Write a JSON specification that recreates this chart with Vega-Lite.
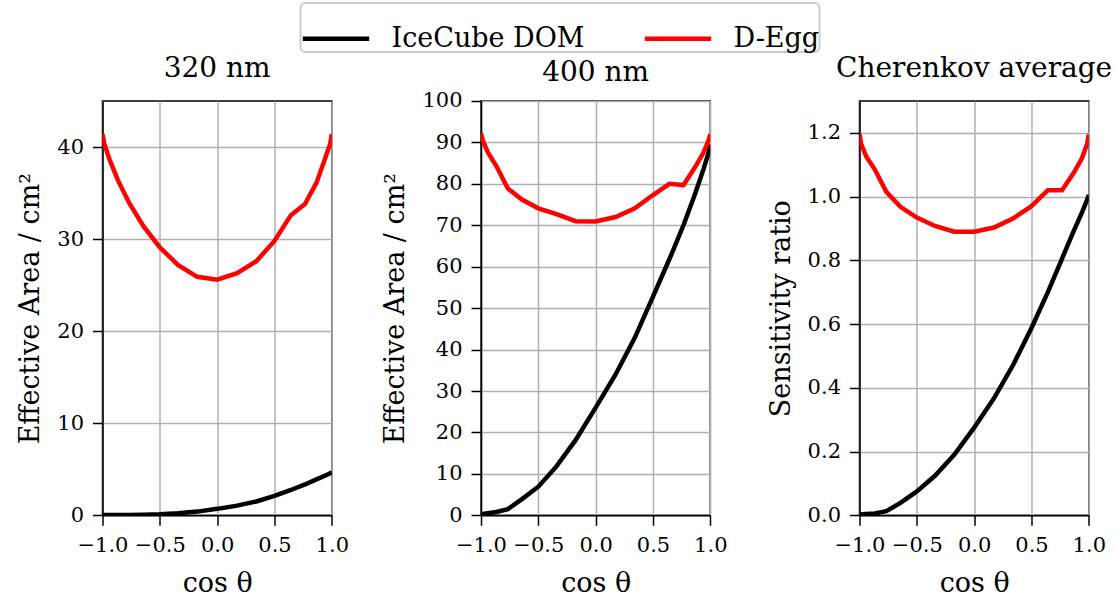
{
  "$schema": "https://vega.github.io/schema/vega-lite/v6.json",
  "background": "white",
  "padding": {"left": 15.5, "top": 2, "right": 5, "bottom": 5},
  "bounds": "flush",
  "spacing": 148.5,
  "datasets": {
    "d": [
      {"p": "a", "s": "IceCube DOM", "x": -1, "y": 0.02},
      {"p": "a", "s": "IceCube DOM", "x": -0.985, "y": 0.02},
      {"p": "a", "s": "IceCube DOM", "x": -0.94, "y": 0.02},
      {"p": "a", "s": "IceCube DOM", "x": -0.866, "y": 0.03},
      {"p": "a", "s": "IceCube DOM", "x": -0.766, "y": 0.04},
      {"p": "a", "s": "IceCube DOM", "x": -0.643, "y": 0.07},
      {"p": "a", "s": "IceCube DOM", "x": -0.5, "y": 0.12},
      {"p": "a", "s": "IceCube DOM", "x": -0.342, "y": 0.22},
      {"p": "a", "s": "IceCube DOM", "x": -0.174, "y": 0.4},
      {"p": "a", "s": "IceCube DOM", "x": 0, "y": 0.7},
      {"p": "a", "s": "IceCube DOM", "x": 0.174, "y": 1.05},
      {"p": "a", "s": "IceCube DOM", "x": 0.342, "y": 1.5},
      {"p": "a", "s": "IceCube DOM", "x": 0.5, "y": 2.1},
      {"p": "a", "s": "IceCube DOM", "x": 0.643, "y": 2.75},
      {"p": "a", "s": "IceCube DOM", "x": 0.766, "y": 3.35},
      {"p": "a", "s": "IceCube DOM", "x": 0.866, "y": 3.9},
      {"p": "a", "s": "IceCube DOM", "x": 0.94, "y": 4.3},
      {"p": "a", "s": "IceCube DOM", "x": 0.985, "y": 4.55},
      {"p": "a", "s": "IceCube DOM", "x": 1, "y": 4.7},
      {"p": "a", "s": "D-Egg", "x": -1, "y": 41.4},
      {"p": "a", "s": "D-Egg", "x": -0.985, "y": 40.4},
      {"p": "a", "s": "D-Egg", "x": -0.94, "y": 38.7},
      {"p": "a", "s": "D-Egg", "x": -0.866, "y": 36.4},
      {"p": "a", "s": "D-Egg", "x": -0.766, "y": 33.9},
      {"p": "a", "s": "D-Egg", "x": -0.643, "y": 31.4},
      {"p": "a", "s": "D-Egg", "x": -0.5, "y": 29.1},
      {"p": "a", "s": "D-Egg", "x": -0.342, "y": 27.2},
      {"p": "a", "s": "D-Egg", "x": -0.174, "y": 25.9},
      {"p": "a", "s": "D-Egg", "x": 0, "y": 25.6},
      {"p": "a", "s": "D-Egg", "x": 0.174, "y": 26.3},
      {"p": "a", "s": "D-Egg", "x": 0.342, "y": 27.6},
      {"p": "a", "s": "D-Egg", "x": 0.5, "y": 29.8},
      {"p": "a", "s": "D-Egg", "x": 0.643, "y": 32.6},
      {"p": "a", "s": "D-Egg", "x": 0.766, "y": 33.8},
      {"p": "a", "s": "D-Egg", "x": 0.866, "y": 36.1},
      {"p": "a", "s": "D-Egg", "x": 0.94, "y": 38.7},
      {"p": "a", "s": "D-Egg", "x": 0.985, "y": 40.3},
      {"p": "a", "s": "D-Egg", "x": 1, "y": 41.4},
      {"p": "b", "s": "IceCube DOM", "x": -1, "y": 0.3},
      {"p": "b", "s": "IceCube DOM", "x": -0.985, "y": 0.3},
      {"p": "b", "s": "IceCube DOM", "x": -0.94, "y": 0.5},
      {"p": "b", "s": "IceCube DOM", "x": -0.866, "y": 0.8},
      {"p": "b", "s": "IceCube DOM", "x": -0.766, "y": 1.5},
      {"p": "b", "s": "IceCube DOM", "x": -0.643, "y": 3.9},
      {"p": "b", "s": "IceCube DOM", "x": -0.5, "y": 6.9},
      {"p": "b", "s": "IceCube DOM", "x": -0.342, "y": 11.8},
      {"p": "b", "s": "IceCube DOM", "x": -0.174, "y": 18.2},
      {"p": "b", "s": "IceCube DOM", "x": 0, "y": 26.0},
      {"p": "b", "s": "IceCube DOM", "x": 0.174, "y": 34.0},
      {"p": "b", "s": "IceCube DOM", "x": 0.342, "y": 42.9},
      {"p": "b", "s": "IceCube DOM", "x": 0.5, "y": 52.8},
      {"p": "b", "s": "IceCube DOM", "x": 0.643, "y": 61.8},
      {"p": "b", "s": "IceCube DOM", "x": 0.766, "y": 70.0},
      {"p": "b", "s": "IceCube DOM", "x": 0.866, "y": 77.5},
      {"p": "b", "s": "IceCube DOM", "x": 0.94, "y": 83.5},
      {"p": "b", "s": "IceCube DOM", "x": 0.985, "y": 87.5},
      {"p": "b", "s": "IceCube DOM", "x": 1, "y": 89.5},
      {"p": "b", "s": "D-Egg", "x": -1, "y": 92.2},
      {"p": "b", "s": "D-Egg", "x": -0.985, "y": 90.5},
      {"p": "b", "s": "D-Egg", "x": -0.94, "y": 87.6},
      {"p": "b", "s": "D-Egg", "x": -0.866, "y": 84.3},
      {"p": "b", "s": "D-Egg", "x": -0.766, "y": 78.9},
      {"p": "b", "s": "D-Egg", "x": -0.643, "y": 76.2},
      {"p": "b", "s": "D-Egg", "x": -0.5, "y": 74.1},
      {"p": "b", "s": "D-Egg", "x": -0.342, "y": 72.7},
      {"p": "b", "s": "D-Egg", "x": -0.174, "y": 71.0},
      {"p": "b", "s": "D-Egg", "x": 0, "y": 70.9},
      {"p": "b", "s": "D-Egg", "x": 0.174, "y": 72.0},
      {"p": "b", "s": "D-Egg", "x": 0.342, "y": 74.1},
      {"p": "b", "s": "D-Egg", "x": 0.5, "y": 77.3},
      {"p": "b", "s": "D-Egg", "x": 0.643, "y": 80.0},
      {"p": "b", "s": "D-Egg", "x": 0.766, "y": 79.7},
      {"p": "b", "s": "D-Egg", "x": 0.866, "y": 84.0},
      {"p": "b", "s": "D-Egg", "x": 0.94, "y": 87.5},
      {"p": "b", "s": "D-Egg", "x": 0.985, "y": 90.5},
      {"p": "b", "s": "D-Egg", "x": 1, "y": 92.0},
      {"p": "c", "s": "IceCube DOM", "x": -1, "y": 0.003},
      {"p": "c", "s": "IceCube DOM", "x": -0.985, "y": 0.003},
      {"p": "c", "s": "IceCube DOM", "x": -0.94, "y": 0.004},
      {"p": "c", "s": "IceCube DOM", "x": -0.866, "y": 0.006},
      {"p": "c", "s": "IceCube DOM", "x": -0.766, "y": 0.013},
      {"p": "c", "s": "IceCube DOM", "x": -0.643, "y": 0.039},
      {"p": "c", "s": "IceCube DOM", "x": -0.5, "y": 0.075},
      {"p": "c", "s": "IceCube DOM", "x": -0.342, "y": 0.124},
      {"p": "c", "s": "IceCube DOM", "x": -0.174, "y": 0.19},
      {"p": "c", "s": "IceCube DOM", "x": 0, "y": 0.275},
      {"p": "c", "s": "IceCube DOM", "x": 0.174, "y": 0.368},
      {"p": "c", "s": "IceCube DOM", "x": 0.342, "y": 0.473},
      {"p": "c", "s": "IceCube DOM", "x": 0.5, "y": 0.588},
      {"p": "c", "s": "IceCube DOM", "x": 0.643, "y": 0.7},
      {"p": "c", "s": "IceCube DOM", "x": 0.766, "y": 0.805},
      {"p": "c", "s": "IceCube DOM", "x": 0.866, "y": 0.89},
      {"p": "c", "s": "IceCube DOM", "x": 0.94, "y": 0.95},
      {"p": "c", "s": "IceCube DOM", "x": 0.985, "y": 0.99},
      {"p": "c", "s": "IceCube DOM", "x": 1, "y": 1.005},
      {"p": "c", "s": "D-Egg", "x": -1, "y": 1.195},
      {"p": "c", "s": "D-Egg", "x": -0.985, "y": 1.165},
      {"p": "c", "s": "D-Egg", "x": -0.94, "y": 1.125},
      {"p": "c", "s": "D-Egg", "x": -0.866, "y": 1.085},
      {"p": "c", "s": "D-Egg", "x": -0.766, "y": 1.015},
      {"p": "c", "s": "D-Egg", "x": -0.643, "y": 0.968},
      {"p": "c", "s": "D-Egg", "x": -0.5, "y": 0.934},
      {"p": "c", "s": "D-Egg", "x": -0.342, "y": 0.908},
      {"p": "c", "s": "D-Egg", "x": -0.174, "y": 0.89},
      {"p": "c", "s": "D-Egg", "x": 0, "y": 0.89},
      {"p": "c", "s": "D-Egg", "x": 0.174, "y": 0.903},
      {"p": "c", "s": "D-Egg", "x": 0.342, "y": 0.932},
      {"p": "c", "s": "D-Egg", "x": 0.5, "y": 0.97},
      {"p": "c", "s": "D-Egg", "x": 0.643, "y": 1.02},
      {"p": "c", "s": "D-Egg", "x": 0.766, "y": 1.02},
      {"p": "c", "s": "D-Egg", "x": 0.866, "y": 1.073},
      {"p": "c", "s": "D-Egg", "x": 0.94, "y": 1.12},
      {"p": "c", "s": "D-Egg", "x": 0.985, "y": 1.165},
      {"p": "c", "s": "D-Egg", "x": 1, "y": 1.195}
    ]
  },
  "data": {"name": "d"},
  "hconcat": [
    {
      "width": 229.3,
      "height": 414.3,
      "title": {"text": "320 nm", "offset": 18},
      "transform": [{"filter": "datum.p == 'a'"}],
      "mark": {"type": "line", "strokeWidth": 4.5, "clip": true},
      "encoding": {
        "x": {"field": "x", "type": "quantitative", "scale": {"domain": [-1, 1], "nice": false, "zero": false}, "axis": {"values": [-1, -0.5, 0, 0.5, 1], "format": ".1f", "title": "cos θ"}},
        "y": {"field": "y", "type": "quantitative", "scale": {"domain": [0, 45], "nice": false}, "axis": {"values": [0, 10, 20, 30, 40], "format": "d", "title": "Effective Area / cm²"}},
        "color": {"field": "s", "type": "nominal", "scale": {"domain": ["IceCube DOM", "D-Egg"], "range": ["black", "red"]}, "legend": {"orient": "none", "legendX": 198, "legendY": -98, "direction": "horizontal", "title": null}}
      }
    },
    {
      "width": 229.3,
      "height": 414.3,
      "title": {"text": "400 nm", "offset": 3},
      "transform": [{"filter": "datum.p == 'b'"}],
      "mark": {"type": "line", "strokeWidth": 4.5, "clip": true},
      "encoding": {
        "x": {"field": "x", "type": "quantitative", "scale": {"domain": [-1, 1], "nice": false, "zero": false}, "axis": {"values": [-1, -0.5, 0, 0.5, 1], "format": ".1f", "title": "cos θ"}},
        "y": {"field": "y", "type": "quantitative", "scale": {"domain": [0, 100], "nice": false}, "axis": {"values": [0, 10, 20, 30, 40, 50, 60, 70, 80, 90, 100], "format": "d", "title": "Effective Area / cm²"}},
        "color": {"field": "s", "type": "nominal", "scale": {"domain": ["IceCube DOM", "D-Egg"], "range": ["black", "red"]}, "legend": {"orient": "none", "legendX": 198, "legendY": -98, "direction": "horizontal", "title": null}}
      }
    },
    {
      "width": 229.3,
      "height": 414.3,
      "title": {"text": "Cherenkov average", "offset": 18},
      "transform": [{"filter": "datum.p == 'c'"}],
      "mark": {"type": "line", "strokeWidth": 4.5, "clip": true},
      "encoding": {
        "x": {"field": "x", "type": "quantitative", "scale": {"domain": [-1, 1], "nice": false, "zero": false}, "axis": {"values": [-1, -0.5, 0, 0.5, 1], "format": ".1f", "title": "cos θ"}},
        "y": {"field": "y", "type": "quantitative", "scale": {"domain": [0, 1.3], "nice": false}, "axis": {"values": [0, 0.2, 0.4, 0.6, 0.8, 1.0, 1.2], "format": ".1f", "title": "Sensitivity ratio"}},
        "color": {"field": "s", "type": "nominal", "scale": {"domain": ["IceCube DOM", "D-Egg"], "range": ["black", "red"]}, "legend": {"orient": "none", "legendX": 198, "legendY": -98, "direction": "horizontal", "title": null}}
      }
    }
  ],
  "config": {
    "font": "DejaVu Serif",
    "view": {"stroke": "black", "strokeWidth": 1.5},
    "title": {"font": "DejaVu Serif", "fontSize": 28, "fontWeight": "normal", "color": "black", "baseline": "alphabetic", "anchor": "middle"},
    "axis": {
      "domainColor": "black", "domainWidth": 1.5,
      "tickColor": "black", "tickWidth": 1.5, "tickSize": 10,
      "labelFont": "DejaVu Serif", "labelFontSize": 21, "labelColor": "black", "labelPadding": 9,
      "titleFont": "DejaVu Serif", "titleFontSize": 27, "titleFontWeight": "normal", "titleColor": "black",
      "gridColor": "#b0b0b0", "gridWidth": 1.5, "gridOpacity": 1,
      "labelFlush": false, "labelOverlap": false, "labelBound": false
    },
    "axisX": {"titlePadding": 15},
    "axisY": {"titlePadding": 12},
    "legend": {
      "symbolType": "stroke", "symbolSize": 4400, "symbolStrokeWidth": 4.5,
      "labelFont": "DejaVu Serif", "labelFontSize": 27, "labelColor": "black", "labelLimit": 0,
      "labelOffset": 20, "columnPadding": 50, "padding": 0,
      "fillColor": "white", "strokeColor": "#cccccc", "cornerRadius": 5, "strokeWidth": 2, "symbolOpacity": 1
    }
  }
}
